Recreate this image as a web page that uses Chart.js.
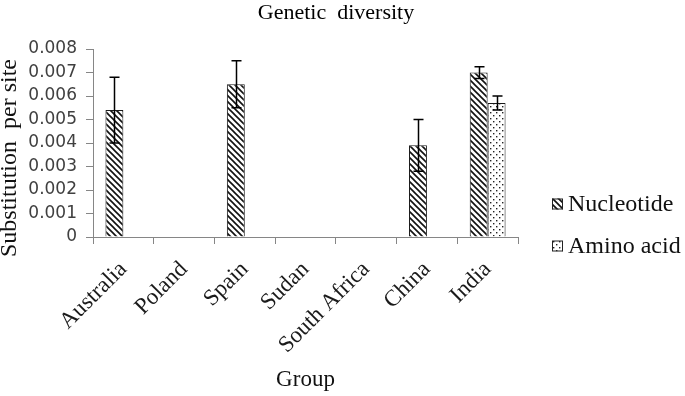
<!DOCTYPE html>
<html><head><meta charset="utf-8">
<script src="https://cdn.jsdelivr.net/npm/chart.js@4/dist/chart.umd.min.js"></script>
<style>html,body{margin:0;padding:0;background:#fff}#wrap{width:685px;height:396px}</style>
</head><body><div id="wrap"><canvas id="c" width="685" height="396"></canvas></div>
<script>
// ---- data ----
const categories = ['Australia', 'Poland', 'Spain', 'Sudan', 'South Africa', 'China', 'India'];
const seriesNames = ['Nucleotide', 'Amino acid'];
const nucleotide = [0.0054, null, 0.0065, null, null, 0.0039, 0.0070];
const nucleotideErr = [0.0014, null, 0.0010, null, null, 0.0011, 0.00025];
const aminoAcid = [null, null, null, null, null, null, 0.0057];
const aminoAcidErr = [null, null, null, null, null, null, 0.0003];
const yTicks = [0, 0.001, 0.002, 0.003, 0.004, 0.005, 0.006, 0.007, 0.008];
const chartTitle = 'Genetic  diversity';
const yTitle = 'Substitution  per site     ';
const xTitle = 'Group';

// ---- patterns ----
function hatchPattern() {
  const t = document.createElement('canvas'); t.width = 6; t.height = 6;
  const g = t.getContext('2d');
  g.fillStyle = '#fff'; g.fillRect(0, 0, 6, 6);
  g.strokeStyle = '#111'; g.lineWidth = 1.6;
  g.beginPath();
  g.moveTo(-1, -1); g.lineTo(7, 7);
  g.moveTo(-1, 5); g.lineTo(1, 7);
  g.moveTo(5, -1); g.lineTo(7, 1);
  g.stroke();
  return g.createPattern(t, 'repeat');
}
function dotPattern() {
  const t = document.createElement('canvas'); t.width = 6; t.height = 6;
  const g = t.getContext('2d');
  g.fillStyle = '#fff'; g.fillRect(0, 0, 6, 6);
  g.fillStyle = '#222';
  g.fillRect(1, 1, 1.4, 1.4);
  g.fillRect(4, 4, 1.4, 1.4);
  return g.createPattern(t, 'repeat');
}
const fills = [hatchPattern(), dotPattern()];
const errs = [nucleotideErr, aminoAcidErr];

const errorBars = {
  id: 'errorBars',
  afterDatasetsDraw(chart) {
    const ctx = chart.ctx, y = chart.scales.y;
    ctx.save();
    ctx.strokeStyle = '#000'; ctx.lineWidth = 1.5;
    chart.data.datasets.forEach((ds, di) => {
      const meta = chart.getDatasetMeta(di);
      ds.data.forEach((v, i) => {
        const e = errs[di][i];
        if (v == null || e == null) return;
        const bar = meta.data[i];
        const x = Math.round(bar.x) + 0.5;
        const yt = y.getPixelForValue(v + e), yb = y.getPixelForValue(v - e);
        ctx.beginPath();
        ctx.moveTo(x, yt); ctx.lineTo(x, yb);
        ctx.moveTo(x - 5, yt); ctx.lineTo(x + 5, yt);
        ctx.moveTo(x - 5, yb); ctx.lineTo(x + 5, yb);
        ctx.stroke();
      });
    });
    ctx.restore();
  }
};

const sideLegendAndTitle = {
  id: 'sideLegendAndTitle',
  afterDraw(chart) {
    const ctx = chart.ctx, a = chart.chartArea;
    ctx.save();
    // chart title
    ctx.font = '22px "Liberation Serif"';
    ctx.textAlign = 'center';
    ctx.textBaseline = 'middle';
    ctx.fillStyle = '#000';
    ctx.fillText(chartTitle, a.right - 182, 13);
    // legend
    ctx.textAlign = 'left';
    ctx.font = '24px "Liberation Serif"';
    chart.data.datasets.forEach((ds, i) => {
      const bx = a.right + 34, cy = a.bottom - 33 + i * 42;
      ctx.fillStyle = ds.backgroundColor;
      ctx.fillRect(bx, cy - 5.5, 11, 11);
      ctx.strokeStyle = '#222'; ctx.lineWidth = 1;
      ctx.strokeRect(bx + 0.5, cy - 5.5 + 0.5, 10, 10);
      ctx.fillStyle = '#111';
      ctx.fillText(ds.label, bx + 16, cy + 1);
    });
    ctx.restore();
  }
};

new Chart(document.getElementById('c'), {
  type: 'bar',
  data: {
    labels: categories,
    datasets: [
      { label: seriesNames[0], data: nucleotide, backgroundColor: fills[0], borderColor: '#1a1a1a', borderWidth: 1 },
      { label: seriesNames[1], data: aminoAcid, backgroundColor: fills[1], borderColor: '#1a1a1a', borderWidth: 1 }
    ]
  },
  options: {
    responsive: false, animation: false, devicePixelRatio: 1,
    categoryPercentage: 0.59, barPercentage: 1.0,
    layout: { padding: { left: 0, right: 167, top: 49, bottom: 0 } },
    plugins: {
      legend: { display: false },
      tooltip: { enabled: false },
      title: { display: false }
    },
    scales: {
      x: {
        afterFit(s) { s.height = 159; },
        grid: { display: true, drawOnChartArea: false, drawTicks: true, tickLength: 7, color: '#868686', offset: true },
        border: { display: true, color: '#868686', width: 1 },
        ticks: { maxRotation: 45, minRotation: 45, autoSkip: false, padding: 12, color: '#1a1a1a',
          font: { family: 'Liberation Serif', size: 23 } },
        title: { display: true, text: xTitle, color: '#111', padding: { top: 0, bottom: 2 },
          font: { family: 'Liberation Serif', size: 23 } }
      },
      y: {
        min: 0, max: 0.008,
        afterFit(s) { s.width = 93; },
        afterBuildTicks(s) { s.ticks = yTicks.map(v => ({ value: v })); },
        grid: { display: true, drawOnChartArea: false, drawTicks: true, tickLength: 7, color: '#868686' },
        border: { display: true, color: '#868686', width: 1 },
        ticks: { padding: 9, color: '#404040', font: { family: 'DejaVu Sans', size: 17 },
          callback: v => (v === 0 ? '0' : Number(v).toFixed(3)) },
        title: { display: true, text: yTitle, color: '#111', padding: 0,
          font: { family: 'Liberation Serif', size: 24, lineHeight: 0.85 } }
      }
    }
  },
  plugins: [errorBars, sideLegendAndTitle]
});
</script>
</body></html>
